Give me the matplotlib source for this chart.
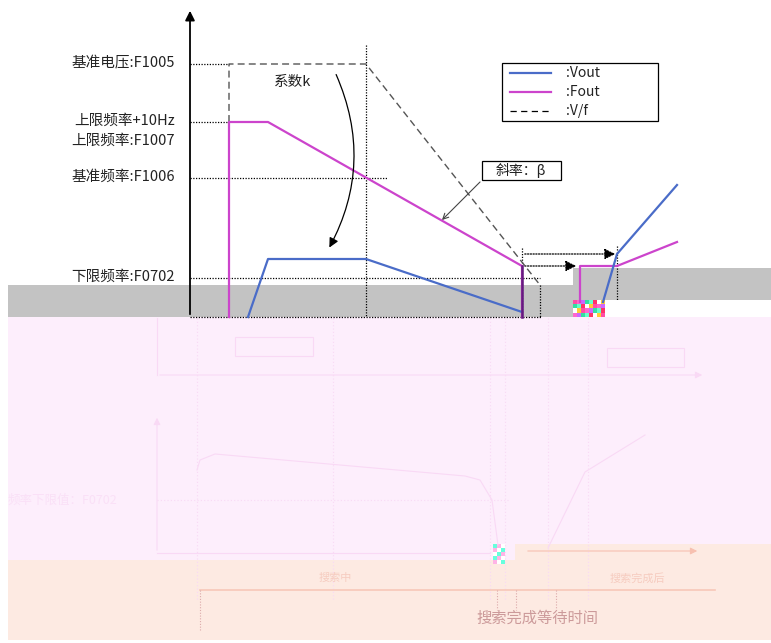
import numpy as np
import matplotlib
matplotlib.use("Agg")
import matplotlib.pyplot as plt
import matplotlib.patches as patches

plt.rcParams['font.family'] = ['Noto Sans CJK SC', 'DejaVu Sans']

# schematic coordinates (image pixels, y grows downward)
fout_x1 = [229, 229, 268, 522, 522]
fout_y1 = [317, 122, 122, 266, 317]
fout_x2 = [580, 580, 617, 677]
fout_y2 = [302, 266, 266, 242]

vout_x1 = [248, 268, 366, 522]
vout_y1 = [317, 259, 259, 312]
vout_x2 = [603, 617, 677]
vout_y2 = [302, 254, 185]

vf_x = [229, 229, 366, 540, 540]
vf_y = [122, 64, 64, 285, 317]

level_y = [64, 122, 178, 278]
level_end = [229, 229, 388, 540]
level_labels = ['基准电压:F1005', '上限频率+10Hz', '基准频率:F1006', '下限频率:F0702']
extra_label = '上限频率:F1007'

legend_names = [':Vout', ':Fout', ':V/f']

BLUE = '#4a6cc8'
MAGENTA = '#cc44cc'
PINK = '#fdeefc'
PEACH = '#fdeae2'
FAINT = '#f9d9f5'

fig = plt.figure(figsize=(7.71, 6.43), dpi=100)
ax = fig.add_axes([0, 0, 1, 1])
ax.set_xlim(0, 771)
ax.set_ylim(643, 0)
ax.axis('off')

# ---- corrupted background bands ----
ax.add_patch(patches.Rectangle((8, 317), 763, 243, color=PINK, lw=0, zorder=0))
ax.add_patch(patches.Polygon([[8, 560], [8, 640], [771, 640], [771, 544],
                              [515, 544], [515, 560]],
                             closed=True, color=PEACH, lw=0, zorder=0))
ax.add_patch(patches.Rectangle((8, 285), 565, 32, color='#c3c3c3', lw=0, zorder=0))
ax.add_patch(patches.Rectangle((573, 268), 198, 32, color='#c3c3c3', lw=0, zorder=0))
# noisy blocks
noise_cols = ['#ff4da6', '#33e0a0', '#ffffff', '#ff66cc', '#66ffcc', '#ffcc33', '#cc66ff', '#ff3366']
for i in range(8):
    for j in range(4):
        ax.add_patch(patches.Rectangle((573 + i * 4, 300 + j * 4.2), 4, 4.2,
                                       color=noise_cols[(i * 3 + j) % 8], lw=0, zorder=1))
for i in range(3):
    for j in range(5):
        ax.add_patch(patches.Rectangle((493 + i * 4, 544 + j * 4), 4, 4,
                                       color=['#66ffdd', '#ffb3e6', '#ffffff'][(i + j) % 3], lw=0, zorder=1))

# ---- faint ghost content in the pink area ----
faint_kw = dict(color=FAINT, lw=0.8, zorder=1)
ax.plot([157, 157], [318, 375], **faint_kw)
ax.annotate('', xy=(705, 375), xytext=(157, 375),
            arrowprops=dict(arrowstyle='-|>', color=FAINT, lw=0.8))
for xv in [197, 333, 490, 505, 548, 588]:
    ax.plot([xv, xv], [318, 600], color=FAINT, lw=0.8, ls=(0, (1, 2)), zorder=1)
ax.add_patch(patches.Rectangle((235, 337), 78, 19, fill=False, ec=FAINT, lw=0.8, zorder=1))
ax.add_patch(patches.Rectangle((607, 348), 77, 19, fill=False, ec=FAINT, lw=0.8, zorder=1))
ax.annotate('', xy=(157, 415), xytext=(157, 553),
            arrowprops=dict(arrowstyle='-|>', color=FAINT, lw=0.8))
ax.plot([157, 490], [553, 553], **faint_kw)
ax.plot([197, 200, 215, 465, 480, 492, 498],
        [470, 460, 454, 476, 480, 500, 545], **faint_kw)
ax.plot([548, 585, 645], [548, 472, 435], **faint_kw)
ax.plot([157, 508], [500, 500], color=FAINT, lw=0.8, ls=(0, (1, 2)), zorder=1)
ax.text(8, 500, '频率下限值：F0702', fontsize=9, color='#fae0f7', va='center', zorder=1)
ax.annotate('', xy=(700, 551), xytext=(525, 551),
            arrowprops=dict(arrowstyle='-|>', color='#f7c0b0', lw=0.8))
ax.plot([200, 715], [590, 590], color='#f8c8b8', lw=1.2, zorder=1)
ax.text(335, 578, '搜索中', fontsize=8, color='#f6ccc0', ha='center', va='center')
ax.text(637, 578, '搜索完成后', fontsize=8, color='#f6ccc0', ha='center', va='center')
ax.text(537, 618, '搜索完成等待时间', fontsize=11, color='#cc9a9a', ha='center', va='center')
for xv in [497, 516, 556]:
    ax.plot([xv, xv], [590, 610], color='#dcaaaa', lw=0.8, ls=(0, (1, 1.5)), zorder=1)
ax.plot([200, 200], [590, 630], color='#dcaaaa', lw=0.8, ls=(0, (1, 1.5)), zorder=1)

# ---- axes of the V/f diagram ----
ax.annotate('', xy=(190, 8), xytext=(190, 317),
            arrowprops=dict(arrowstyle='-|>', color='black', lw=1.3,
                            mutation_scale=14), zorder=5)
dot = dict(color='black', lw=0.9, ls=(0, (1, 1.2)), zorder=3)
ax.plot([190, 541], [317, 317], **dot)
for yv, xe in zip(level_y, level_end):
    ax.plot([190, xe], [yv, yv], **dot)
ax.plot([366, 366], [45, 317], **dot)
ax.plot([522, 522], [248, 317], **dot)
ax.plot([617, 617], [246, 300], **dot)

# level labels
for yv, lab in zip(level_y, level_labels):
    ax.text(175, yv - 1, lab, fontsize=10.5, ha='right', va='center', color='#222222')
ax.text(175, 141, extra_label, fontsize=10.5, ha='right', va='center', color='#222222')

# V/f dashed line
ax.plot(vf_x[:4], vf_y[:4], color='#555555', lw=1.0, ls=(0, (5, 3)), zorder=3)
ax.plot(vf_x[3:], vf_y[3:], **dot)

# Fout / Vout
ax.plot(fout_x1, fout_y1, color=MAGENTA, lw=1.6, zorder=4)
ax.plot(fout_x2, fout_y2, color=MAGENTA, lw=1.6, zorder=4)
ax.plot(vout_x1, vout_y1, color=BLUE, lw=1.6, zorder=4)
ax.plot(vout_x2, vout_y2, color=BLUE, lw=1.6, zorder=4)
ax.plot([522, 522], [266, 317], color='#661a80', lw=1.8, zorder=5)

# dotted arrows
ax.annotate('', xy=(618, 254), xytext=(522, 254),
            arrowprops=dict(arrowstyle='-|>', color='black', lw=0.9, ls=(0, (1, 1.2)),
                            mutation_scale=16), zorder=5)
ax.annotate('', xy=(579, 266), xytext=(522, 266),
            arrowprops=dict(arrowstyle='-|>', color='black', lw=0.9, ls=(0, (1, 1.2)),
                            mutation_scale=16), zorder=5)

# coefficient k
ax.text(293, 82, '系数k', fontsize=10.5, ha='center', va='center', color='#222222')
ax.annotate('', xy=(328, 250), xytext=(335, 72),
            arrowprops=dict(arrowstyle='-|>', color='black', lw=0.9, mutation_scale=14,
                            connectionstyle='arc3,rad=-0.25'), zorder=5)

# slope callout
ax.add_patch(patches.Rectangle((482, 161), 79, 19, fill=False, ec='black', lw=0.9, zorder=5))
ax.text(521, 170.5, '斜率：β', fontsize=10, ha='center', va='center', color='#222222')
ax.annotate('', xy=(440, 222), xytext=(482, 180),
            arrowprops=dict(arrowstyle='->', color='#444444', lw=0.8), zorder=5)

# legend box
ax.add_patch(patches.Rectangle((502, 63), 156, 58, fill=False, ec='black', lw=0.9, zorder=5))
leg_y = [73, 92, 111]
leg_styles = [dict(color=BLUE, lw=1.6), dict(color=MAGENTA, lw=1.6),
              dict(color='black', lw=0.9, ls=(0, (5, 3.5)))]
for yv, name, st in zip(leg_y, legend_names, leg_styles):
    ax.plot([510, 551], [yv, yv], zorder=6, **st)
    ax.text(566, yv, name, fontsize=10, va='center', color='#222222')

fig.savefig('out.png', dpi=100)
